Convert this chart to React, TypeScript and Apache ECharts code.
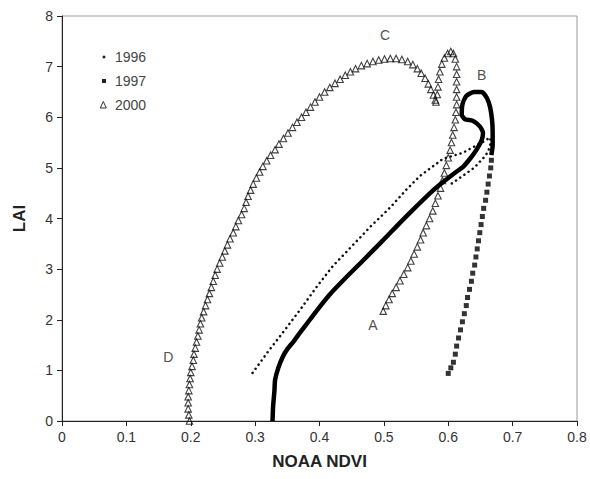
import React, { useEffect, useRef } from "react";
import * as echarts from "echarts";

// NOAA NDVI (x) vs LAI (y)
const series1996: [number, number][] = [
  [0.296, 0.95], [0.32, 1.37], [0.345, 1.78], [0.37, 2.2], [0.395, 2.64], [0.42, 3.05],
  [0.45, 3.45], [0.48, 3.85], [0.51, 4.22], [0.535, 4.57], [0.556, 4.84], [0.575, 5.02],
  [0.592, 5.18], [0.61, 5.25], [0.623, 5.3], [0.64, 5.42], [0.655, 5.52], [0.665, 5.6],
  [0.666, 5.5], [0.662, 5.32], [0.655, 5.2], [0.64, 5.0], [0.62, 4.82], [0.602, 4.66],
];

const series1997Rise: [number, number][] = [
  [0.327, 0.0], [0.328, 0.3], [0.33, 0.6], [0.331, 0.81], [0.336, 1.05], [0.343, 1.27],
  [0.35, 1.42], [0.359, 1.56], [0.37, 1.75], [0.385, 2.0], [0.4, 2.25], [0.416, 2.5],
  [0.44, 2.82], [0.47, 3.2], [0.494, 3.51], [0.52, 3.85], [0.545, 4.17], [0.576, 4.55],
  [0.592, 4.72], [0.61, 4.9], [0.623, 5.02], [0.635, 5.2], [0.644, 5.36], [0.652, 5.55],
  [0.654, 5.69], [0.649, 5.82], [0.638, 5.93], [0.626, 5.96], [0.621, 6.05], [0.622, 6.25],
  [0.628, 6.42], [0.64, 6.5], [0.652, 6.5], [0.66, 6.38], [0.665, 6.2], [0.668, 5.95],
  [0.669, 5.7], [0.669, 5.45], [0.667, 5.25],
];

const series1997Fall: [number, number][] = [
  [0.667, 5.15], [0.666, 5.0], [0.664, 4.84], [0.662, 4.68], [0.66, 4.52], [0.658, 4.36],
  [0.655, 4.2], [0.653, 4.04], [0.651, 3.88], [0.649, 3.72], [0.647, 3.56], [0.645, 3.4],
  [0.643, 3.24], [0.641, 3.08], [0.638, 2.92], [0.636, 2.76], [0.633, 2.6], [0.63, 2.44],
  [0.628, 2.28], [0.625, 2.12], [0.622, 1.96], [0.619, 1.8], [0.616, 1.64], [0.613, 1.48],
  [0.611, 1.32], [0.608, 1.16], [0.604, 1.05], [0.6, 0.94],
];

const series2000: [number, number][] = [
  [0.198, 0.0], [0.197, 0.12], [0.196, 0.24], [0.196, 0.36], [0.196, 0.48], [0.197, 0.6],
  [0.198, 0.72], [0.199, 0.84], [0.2, 0.96], [0.202, 1.08], [0.204, 1.2], [0.205, 1.32],
  [0.207, 1.44], [0.209, 1.56], [0.211, 1.68], [0.213, 1.8], [0.215, 1.92], [0.217, 2.04],
  [0.22, 2.16], [0.223, 2.28], [0.226, 2.4], [0.229, 2.52], [0.232, 2.64], [0.235, 2.76],
  [0.238, 2.88], [0.241, 3.0], [0.245, 3.12], [0.249, 3.24], [0.253, 3.36], [0.257, 3.48],
  [0.261, 3.6], [0.266, 3.72], [0.27, 3.84], [0.274, 3.96], [0.279, 4.08], [0.283, 4.2],
  [0.286, 4.32], [0.289, 4.44], [0.293, 4.56], [0.297, 4.68], [0.302, 4.8], [0.307, 4.92],
  [0.312, 5.03], [0.318, 5.14], [0.324, 5.25], [0.331, 5.36], [0.337, 5.47], [0.344, 5.58],
  [0.351, 5.69], [0.358, 5.8], [0.365, 5.9], [0.372, 6.0], [0.379, 6.1], [0.386, 6.2],
  [0.393, 6.3], [0.4, 6.4], [0.408, 6.5], [0.416, 6.59], [0.424, 6.67], [0.432, 6.75],
  [0.44, 6.83], [0.448, 6.9], [0.456, 6.96], [0.465, 7.02], [0.474, 7.06], [0.483, 7.1],
  [0.492, 7.13], [0.501, 7.15], [0.51, 7.16], [0.519, 7.16], [0.528, 7.14], [0.537, 7.1],
  [0.545, 7.04], [0.552, 6.96], [0.558, 6.87], [0.564, 6.77], [0.569, 6.66], [0.573, 6.55],
  [0.577, 6.44], [0.58, 6.34], [0.581, 6.3], [0.583, 6.45], [0.584, 6.6], [0.585, 6.75],
  [0.587, 6.9], [0.59, 7.05], [0.594, 7.17], [0.599, 7.26], [0.604, 7.3], [0.608, 7.26],
  [0.611, 7.15], [0.613, 7.0], [0.613, 6.85], [0.613, 6.7], [0.613, 6.55], [0.613, 6.4],
  [0.613, 6.25], [0.612, 6.1], [0.611, 5.95], [0.609, 5.8], [0.607, 5.65], [0.605, 5.5],
  [0.603, 5.35], [0.6, 5.2], [0.597, 5.05], [0.594, 4.9], [0.591, 4.75], [0.588, 4.6],
  [0.584, 4.45], [0.58, 4.3], [0.576, 4.15], [0.571, 4.0], [0.566, 3.86], [0.561, 3.72],
  [0.557, 3.58], [0.552, 3.44], [0.547, 3.3], [0.542, 3.16], [0.537, 3.03], [0.531, 2.9],
  [0.525, 2.77], [0.519, 2.64], [0.513, 2.52], [0.508, 2.4], [0.503, 2.28], [0.499, 2.17],
];

const pointLabels = [
  { name: "C", value: [0.502, 7.63] },
  { name: "B", value: [0.652, 6.84] },
  { name: "A", value: [0.483, 1.9] },
  { name: "D", value: [0.165, 1.26] },
];

const legendNames = ["1996", "1997", "2000"];

const FONT = "'Liberation Sans', Arial, sans-serif";

export default function App() {
  const ref = useRef<HTMLDivElement>(null);

  useEffect(() => {
    document.body.style.margin = "0";
    if (!ref.current) return;
    const chart = echarts.init(ref.current, null, { renderer: "svg" });

    const legendY = [57, 81, 105];
    const legendGraphics: any[] = [
      { type: "circle", shape: { cx: 104, cy: legendY[0], r: 1.5 }, style: { fill: "#222" } },
      { type: "rect", shape: { x: 102, y: legendY[1] - 2, width: 4, height: 4 }, style: { fill: "#222" } },
      {
        type: "polygon",
        shape: { points: [[103.3, legendY[2] - 3.5], [100.3, legendY[2] + 3], [106.3, legendY[2] + 3]] },
        style: { fill: "none", stroke: "#333", lineWidth: 1 },
      },
      ...legendNames.map((n, i) => ({
        type: "text",
        x: 115,
        y: legendY[i],
        style: { text: n, font: `14px ${FONT}`, fill: "#444", textVerticalAlign: "middle" },
      })),
    ];

    chart.setOption({
      animation: false,
      backgroundColor: "#fff",
      textStyle: { fontFamily: FONT },
      grid: {
        left: 62,
        right: 13,
        top: 16,
        bottom: 58,
        show: true,
        borderColor: "#999",
        borderWidth: 1,
      },
      xAxis: {
        type: "value",
        min: 0,
        max: 0.8,
        interval: 0.1,
        name: "NOAA NDVI",
        nameLocation: "middle",
        nameGap: 32,
        nameTextStyle: { fontSize: 17, fontWeight: "bold", color: "#222", fontFamily: FONT },
        axisLine: { show: true, lineStyle: { color: "#222", width: 1 } },
        axisTick: { show: true, length: 5, lineStyle: { color: "#222" } },
        axisLabel: { fontSize: 14, color: "#333", margin: 9, fontFamily: FONT },
        splitLine: { show: false },
      },
      yAxis: {
        type: "value",
        min: 0,
        max: 8,
        interval: 1,
        name: "LAI",
        nameLocation: "middle",
        nameGap: 34,
        nameTextStyle: { fontSize: 17, fontWeight: "bold", color: "#222", fontFamily: FONT },
        axisLine: { show: true, lineStyle: { color: "#222", width: 1 } },
        axisTick: { show: true, length: 5, lineStyle: { color: "#222" } },
        axisLabel: { fontSize: 14, color: "#333", margin: 9, fontFamily: FONT },
        splitLine: { show: false },
      },
      series: [
        {
          name: "1996",
          type: "line",
          data: series1996,
          showSymbol: false,
          symbol: "none",
          lineStyle: { color: "#111", width: 2.5, type: [0.1, 5], cap: "round" },
        },
        {
          name: "1997",
          type: "line",
          data: series1997Rise,
          showSymbol: false,
          symbol: "none",
          smooth: 0.2,
          lineStyle: { color: "#000", width: 4.5, join: "round" },
        },
        {
          name: "1997",
          type: "scatter",
          data: series1997Fall,
          symbol: "rect",
          symbolSize: 5,
          itemStyle: { color: "#000" },
        },
        {
          name: "2000",
          type: "scatter",
          data: series2000,
          symbol: "triangle",
          symbolSize: 6.5,
          itemStyle: { color: "rgba(255,255,255,0)", borderColor: "#111", borderWidth: 1.1 },
        },
        {
          name: "labels",
          type: "scatter",
          data: pointLabels,
          symbolSize: 0,
          itemStyle: { color: "#222" },
          label: {
            show: true,
            position: "inside",
            formatter: (p: any) => p.name,
            fontSize: 14,
            color: "#222",
            fontFamily: FONT,
          },
        },
      ],
      graphic: legendGraphics,
    });

    return () => chart.dispose();
  }, []);

  return <div ref={ref} style={{ width: 590, height: 479 }} />;
}
